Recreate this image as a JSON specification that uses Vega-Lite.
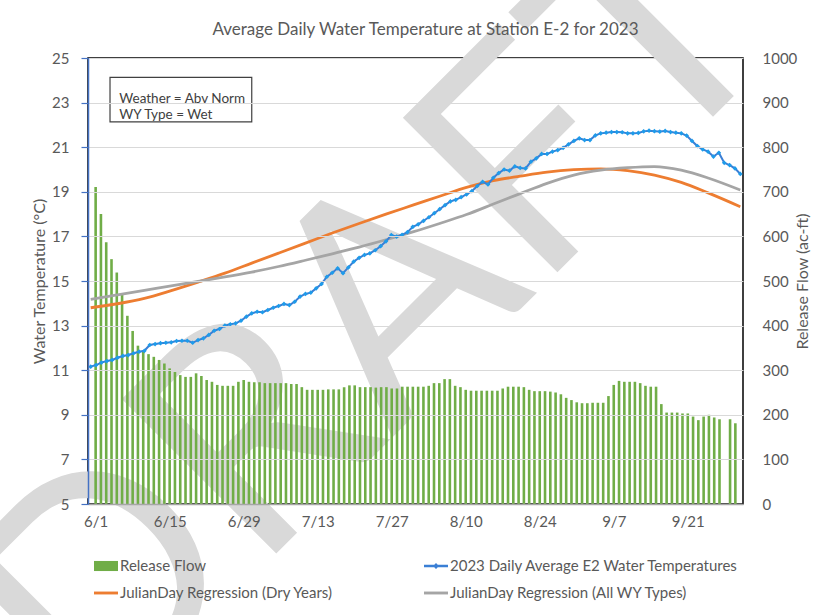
{
  "$schema": "https://vega.github.io/schema/vega-lite/v6.json",
  "width": 655,
  "height": 446,
  "autosize": {"type": "none"},
  "padding": {"left": 88, "top": 58, "right": 91, "bottom": 111},
  "background": "white",
  "config": {"view": {"stroke": "#000000", "strokeWidth": 1.5}, "font": "Lato"},
  "datasets": {
    "flow": [
      {"day":0,"flow":711},{"day":1,"flow":650},{"day":2,"flow":587},{"day":3,"flow":549},{"day":4,"flow":519},{"day":5,"flow":469},{"day":6,"flow":422},{"day":7,"flow":388},{"day":8,"flow":355},{"day":9,"flow":343},
      {"day":10,"flow":336},{"day":11,"flow":330},{"day":12,"flow":323},{"day":13,"flow":315},{"day":14,"flow":304},{"day":15,"flow":296},{"day":16,"flow":289},{"day":17,"flow":285},{"day":18,"flow":285},{"day":19,"flow":293},
      {"day":20,"flow":287},{"day":21,"flow":278},{"day":22,"flow":274},{"day":23,"flow":267},{"day":24,"flow":265},{"day":25,"flow":265},{"day":26,"flow":265},{"day":27,"flow":274},{"day":28,"flow":278},{"day":29,"flow":274},
      {"day":30,"flow":273},{"day":31,"flow":273},{"day":32,"flow":271},{"day":33,"flow":271},{"day":34,"flow":271},{"day":35,"flow":271},{"day":36,"flow":271},{"day":37,"flow":269},{"day":38,"flow":269},{"day":39,"flow":262},
      {"day":40,"flow":256},{"day":41,"flow":256},{"day":42,"flow":256},{"day":43,"flow":256},{"day":44,"flow":257},{"day":45,"flow":257},{"day":46,"flow":257},{"day":47,"flow":262},{"day":48,"flow":266},{"day":49,"flow":266},
      {"day":50,"flow":262},{"day":51,"flow":262},{"day":52,"flow":262},{"day":53,"flow":261},{"day":54,"flow":262},{"day":55,"flow":262},{"day":56,"flow":259},{"day":57,"flow":259},{"day":58,"flow":263},{"day":59,"flow":263},
      {"day":60,"flow":263},{"day":61,"flow":263},{"day":62,"flow":263},{"day":63,"flow":265},{"day":64,"flow":271},{"day":65,"flow":271},{"day":66,"flow":280},{"day":67,"flow":280},{"day":68,"flow":265},{"day":69,"flow":262},
      {"day":70,"flow":256},{"day":71,"flow":254},{"day":72,"flow":254},{"day":73,"flow":254},{"day":74,"flow":254},{"day":75,"flow":254},{"day":76,"flow":254},{"day":77,"flow":259},{"day":78,"flow":263},{"day":79,"flow":263},
      {"day":80,"flow":263},{"day":81,"flow":262},{"day":82,"flow":256},{"day":83,"flow":253},{"day":84,"flow":253},{"day":85,"flow":253},{"day":86,"flow":252},{"day":87,"flow":250},{"day":88,"flow":246},{"day":89,"flow":238},
      {"day":90,"flow":233},{"day":91,"flow":228},{"day":92,"flow":226},{"day":93,"flow":226},{"day":94,"flow":227},{"day":95,"flow":227},{"day":96,"flow":227},{"day":97,"flow":242},{"day":98,"flow":267},{"day":99,"flow":276},
      {"day":100,"flow":274},{"day":101,"flow":274},{"day":102,"flow":274},{"day":103,"flow":271},{"day":104,"flow":265},{"day":105,"flow":263},{"day":106,"flow":263},{"day":107,"flow":224},{"day":108,"flow":205},{"day":109,"flow":205},
      {"day":110,"flow":205},{"day":111,"flow":203},{"day":112,"flow":203},{"day":113,"flow":196},{"day":114,"flow":188},{"day":115,"flow":196},{"day":116,"flow":200},{"day":117,"flow":194},{"day":118,"flow":190},
      {"day":120,"flow":190},{"day":121,"flow":181}
    ],
    "temp": [
      {"day":0,"temp":11.16},{"day":1,"temp":11.23},{"day":2,"temp":11.34},{"day":3,"temp":11.41},{"day":4,"temp":11.46},{"day":5,"temp":11.56},{"day":6,"temp":11.64},{"day":7,"temp":11.68},{"day":8,"temp":11.76},{"day":9,"temp":11.83},
      {"day":10,"temp":11.87},{"day":11,"temp":12.13},{"day":12,"temp":12.17},{"day":13,"temp":12.21},{"day":14,"temp":12.23},{"day":15,"temp":12.25},{"day":16,"temp":12.31},{"day":17,"temp":12.32},{"day":18,"temp":12.32},{"day":19,"temp":12.23},
      {"day":20,"temp":12.35},{"day":21,"temp":12.43},{"day":22,"temp":12.58},{"day":23,"temp":12.77},{"day":24,"temp":12.85},{"day":25,"temp":13.0},{"day":26,"temp":13.06},{"day":27,"temp":13.1},{"day":28,"temp":13.22},{"day":29,"temp":13.4},
      {"day":30,"temp":13.55},{"day":31,"temp":13.62},{"day":32,"temp":13.6},{"day":33,"temp":13.7},{"day":34,"temp":13.8},{"day":35,"temp":13.88},{"day":36,"temp":13.97},{"day":37,"temp":13.92},{"day":38,"temp":14.07},{"day":39,"temp":14.3},
      {"day":40,"temp":14.42},{"day":41,"temp":14.48},{"day":42,"temp":14.67},{"day":43,"temp":14.87},{"day":44,"temp":15.19},{"day":45,"temp":15.37},{"day":46,"temp":15.57},{"day":47,"temp":15.35},{"day":48,"temp":15.61},{"day":49,"temp":15.87},
      {"day":50,"temp":16.04},{"day":51,"temp":16.17},{"day":52,"temp":16.24},{"day":53,"temp":16.38},{"day":54,"temp":16.56},{"day":55,"temp":16.78},{"day":56,"temp":17.06},{"day":57,"temp":16.99},{"day":58,"temp":17.07},{"day":59,"temp":17.19},
      {"day":60,"temp":17.43},{"day":61,"temp":17.54},{"day":62,"temp":17.7},{"day":63,"temp":17.86},{"day":64,"temp":18.04},{"day":65,"temp":18.22},{"day":66,"temp":18.4},{"day":67,"temp":18.57},{"day":68,"temp":18.64},{"day":69,"temp":18.76},
      {"day":70,"temp":18.88},{"day":71,"temp":19.03},{"day":72,"temp":19.26},{"day":73,"temp":19.45},{"day":74,"temp":19.33},{"day":75,"temp":19.63},{"day":76,"temp":19.84},{"day":77,"temp":20.0},{"day":78,"temp":19.95},{"day":79,"temp":20.14},
      {"day":80,"temp":20.07},{"day":81,"temp":20.05},{"day":82,"temp":20.35},{"day":83,"temp":20.5},{"day":84,"temp":20.7},{"day":85,"temp":20.7},{"day":86,"temp":20.8},{"day":87,"temp":20.87},{"day":88,"temp":20.97},{"day":89,"temp":21.13},
      {"day":90,"temp":21.28},{"day":91,"temp":21.4},{"day":92,"temp":21.32},{"day":93,"temp":21.32},{"day":94,"temp":21.53},{"day":95,"temp":21.62},{"day":96,"temp":21.65},{"day":97,"temp":21.68},{"day":98,"temp":21.68},{"day":99,"temp":21.67},
      {"day":100,"temp":21.62},{"day":101,"temp":21.62},{"day":102,"temp":21.64},{"day":103,"temp":21.71},{"day":104,"temp":21.74},{"day":105,"temp":21.72},{"day":106,"temp":21.7},{"day":107,"temp":21.73},{"day":108,"temp":21.68},{"day":109,"temp":21.65},
      {"day":110,"temp":21.62},{"day":111,"temp":21.52},{"day":112,"temp":21.28},{"day":113,"temp":21.05},{"day":114,"temp":20.9},{"day":115,"temp":20.8},{"day":116,"temp":20.58},{"day":117,"temp":20.75},{"day":118,"temp":20.3},{"day":119,"temp":20.2},
      {"day":120,"temp":20.05},{"day":121,"temp":19.8}
    ],
    "dry": [
      {"day":0,"temp":13.8},{"day":5,"temp":13.98},{"day":10,"temp":14.22},{"day":15,"temp":14.57},{"day":20,"temp":14.95},{"day":25,"temp":15.35},{"day":30,"temp":15.8},{"day":35,"temp":16.25},{"day":40,"temp":16.7},{"day":45,"temp":17.15},
      {"day":50,"temp":17.58},{"day":55,"temp":18.0},{"day":60,"temp":18.4},{"day":65,"temp":18.8},{"day":70,"temp":19.2},{"day":75,"temp":19.5},{"day":80,"temp":19.7},{"day":85,"temp":19.88},{"day":90,"temp":19.99},{"day":95,"temp":20.03},
      {"day":100,"temp":19.95},{"day":105,"temp":19.75},{"day":110,"temp":19.42},{"day":115,"temp":18.95},{"day":121,"temp":18.33}
    ],
    "allwy": [
      {"day":0,"temp":14.18},{"day":5,"temp":14.38},{"day":10,"temp":14.58},{"day":15,"temp":14.78},{"day":20,"temp":14.98},{"day":25,"temp":15.18},{"day":30,"temp":15.4},{"day":35,"temp":15.65},{"day":40,"temp":15.93},{"day":45,"temp":16.22},
      {"day":50,"temp":16.52},{"day":55,"temp":16.85},{"day":60,"temp":17.2},{"day":65,"temp":17.58},{"day":70,"temp":17.98},{"day":75,"temp":18.45},{"day":80,"temp":18.92},{"day":85,"temp":19.38},{"day":90,"temp":19.75},{"day":95,"temp":19.97},
      {"day":100,"temp":20.08},{"day":105,"temp":20.13},{"day":110,"temp":19.97},{"day":115,"temp":19.62},{"day":121,"temp":19.08}
    ]
  },
  "layer": [
    {
      "data": {"values": [{"w": "DRAFT"}]},
      "mark": {"type": "text", "angle": 315, "fontSize": 305, "font": "Lato", "color": "#D9D9D9", "align": "center", "baseline": "middle"},
      "encoding": {
        "x": {"datum": 52.9, "type": "quantitative", "scale": {"domain": [-0.5, 121.5], "nice": false, "zero": false},
          "axis": {"orient": "top", "labels": false, "ticks": false, "domain": false, "grid": false, "title": "Average Daily Water Temperature at Station E-2 for 2023", "titleFont": "Lato", "titleFontSize": 17, "titleFontWeight": "normal", "titleColor": "#595959", "titlePadding": 20, "titleX": 337, "zindex": 1}},
        "y": {"datum": 13.03, "type": "quantitative", "scale": {"domain": [5, 25], "nice": false, "zero": false}, "axis": null},
        "text": {"field": "w"}
      }
    },
    {
      "data": {"name": "flow"},
      "mark": {"type": "bar", "size": 2.6},
      "encoding": {
        "x": {
          "field": "day", "type": "quantitative",
          "scale": {"domain": [-0.5, 121.5], "nice": false, "zero": false},
          "axis": {"values": [0, 14, 28, 42, 56, 70, 84, 98, 112], "labelExpr": "timeFormat(datetime(2023, 5, 1 + datum.value), '%-m/%-d')", "ticks": false, "grid": false, "domainColor": "#A6A6A6", "domainWidth": 1.5, "labelFont": "Lato", "labelFontSize": 15, "labelColor": "#595959", "labelPadding": 10, "labelFlush": false, "labelOverlap": false, "title": null, "zindex": 1}
        },
        "y": {"field": "flow", "type": "quantitative", "scale": {"domain": [0, 1000], "nice": false},
          "axis": {"orient": "right", "values": [0, 100, 200, 300, 400, 500, 600, 700, 800, 900, 1000], "format": "d", "domain": false, "ticks": false, "grid": false, "labelFont": "Lato", "labelFontSize": 15, "labelColor": "#595959", "labelPadding": 19, "title": "Release Flow (ac-ft)", "titleFont": "Lato", "titleFontSize": 16, "titleFontWeight": "normal", "titleColor": "#595959", "titleAngle": 270, "titlePadding": 14, "zindex": 1}},
        "color": {"datum": "Release Flow", "type": "nominal",
          "scale": {"domain": ["Release Flow", "2023 Daily Average E2 Water Temperatures", "JulianDay Regression (Dry Years)", "JulianDay Regression (All WY Types)"], "range": ["#70AD47", "#3A7FD5", "#ED7D31", "#A5A5A5"]},
          "legend": {"orient": "none", "legendX": 6, "legendY": 496, "direction": "horizontal", "columns": 2, "title": null, "labelFont": "Lato", "labelFontSize": 15, "labelColor": "#595959", "symbolSize": 576, "columnPadding": 90, "rowPadding": 7, "labelOffset": 2, "labelLimit": 400, "zindex": 1,
            "encode": {"symbols": {"update": {
              "shape": {"signal": "datum.value === 'Release Flow' ? 'M-1,-0.42H1V0.42H-1Z' : (datum.value === '2023 Daily Average E2 Water Temperatures' ? 'M-1,-0.1H1V0.1H-1Z M-0.25,0L0,-0.25L0.25,0L0,0.25Z' : 'M-1,-0.12H1V0.12H-1Z')"},
              "fill": {"signal": "scale('color', datum.value)"},
              "stroke": {"value": "transparent"},
              "strokeWidth": {"value": 0},
              "opacity": {"value": 1}
            }}}}
        }
      }
    },
    {
      "layer": [
        {
          "data": {"name": "dry"},
          "mark": {"type": "line", "strokeWidth": 2.8, "interpolate": "monotone"},
          "encoding": {
            "x": {"field": "day", "type": "quantitative", "scale": {"domain": [-0.5, 121.5], "nice": false, "zero": false}, "axis": null},
            "y": {"field": "temp", "type": "quantitative", "scale": {"domain": [5, 25], "nice": false, "zero": false},
              "axis": {
                "values": [5, 7, 9, 11, 13, 15, 17, 19, 21, 23, 25],
                "domainColor": "#4472C4", "domainWidth": 1.5,
                "tickColor": "#4472C4", "tickWidth": 1.2, "tickSize": 7,
                "grid": true, "gridColor": "#D9D9D9", "gridWidth": 1.2,
                "labelFont": "Lato", "labelFontSize": 15, "labelColor": "#595959", "labelPadding": 12, "labelFlush": false, "labelOverlap": false,
                "title": "Water Temperature (°C)", "titleFont": "Lato", "titleFontSize": 16, "titleFontWeight": "normal", "titleColor": "#595959", "titlePadding": 4, "zindex": 1
              }
            },
            "color": {"datum": "JulianDay Regression (Dry Years)", "type": "nominal"}
          }
        },
        {
          "data": {"name": "allwy"},
          "mark": {"type": "line", "strokeWidth": 2.8, "interpolate": "monotone"},
          "encoding": {
            "x": {"field": "day", "type": "quantitative", "axis": null},
            "y": {"field": "temp", "type": "quantitative"},
            "color": {"datum": "JulianDay Regression (All WY Types)", "type": "nominal"}
          }
        },
        {
          "data": {"name": "temp"},
          "mark": {"type": "line", "strokeWidth": 2},
          "encoding": {
            "x": {"field": "day", "type": "quantitative", "axis": null},
            "y": {"field": "temp", "type": "quantitative"},
            "color": {"datum": "2023 Daily Average E2 Water Temperatures", "type": "nominal"}
          }
        },
        {
          "data": {"name": "temp"},
          "mark": {"type": "point", "shape": "diamond", "filled": true, "size": 22, "color": "#1E9BEA", "opacity": 1},
          "encoding": {
            "x": {"field": "day", "type": "quantitative", "axis": null},
            "y": {"field": "temp", "type": "quantitative"}
          }
        },
        {
          "data": {"values": [{"a": 1}]},
          "mark": {"type": "rect", "fill": "white", "stroke": "#404040", "strokeWidth": 1.2},
          "encoding": {
            "x": {"datum": 3.6, "type": "quantitative", "axis": null},
            "x2": {"datum": 30.0},
            "y": {"datum": 24.13, "type": "quantitative"},
            "y2": {"datum": 22.14}
          }
        },
        {
          "data": {"values": [{"t": "Weather = Abv Norm\nWY Type = Wet"}]},
          "mark": {"type": "text", "align": "left", "baseline": "middle", "lineBreak": "\n", "lineHeight": 16, "font": "Lato", "fontSize": 13.5, "color": "#404040"},
          "encoding": {
            "x": {"datum": 5.33, "type": "quantitative", "axis": null},
            "y": {"datum": 23.18, "type": "quantitative"},
            "text": {"field": "t"}
          }
        }
      ]
    }
  ],
  "resolve": {"scale": {"x": "independent", "y": "independent"}}
}
